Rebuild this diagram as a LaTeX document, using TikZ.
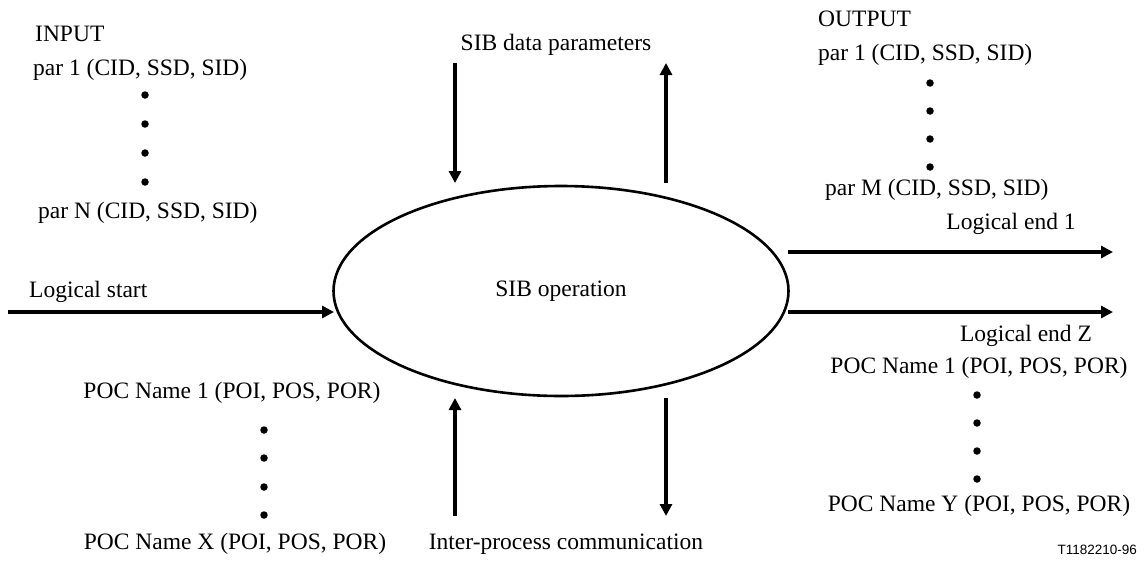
\documentclass[tikz,border=0pt]{standalone}
\usepackage{fontspec}
\setmainfont{Liberation Serif}
\newfontfamily\tcodefont{Liberation Sans}
\usetikzlibrary{shapes.geometric,arrows.meta}
\begin{document}
\begin{tikzpicture}[x=1pt,y=-1pt,
  lbl/.style={inner sep=0pt,font=\fontsize{23.5}{26}\selectfont},
  arr/.style={line width=3.1pt,-{Triangle[length=12pt,width=12pt]}},
  dotmark/.style={circle,fill=black,inner sep=0pt,minimum size=7.5pt}]
\useasboundingbox (0,0) rectangle (1147,563);
% central ellipse
\node[ellipse,draw,line width=2.6pt,minimum width=455pt,minimum height=210pt,inner sep=0pt,lbl] (op) at (561,291) {SIB operation};
% INPUT side
\node[lbl,anchor=west] (inp) at (35,34) {INPUT};
\node[lbl,anchor=west] (ip1) at (33,70) {par 1 (CID, SSD, SID)};
\foreach \i/\y in {1/95,2/124,3/153,4/182} \node[dotmark] (id\i) at (145,\y) {};
\node[lbl,anchor=west] (ipn) at (38,213) {par N (CID, SSD, SID)};
% OUTPUT side
\node[lbl,anchor=west] (out) at (818,19) {OUTPUT};
\node[lbl,anchor=west] (op1) at (818,55) {par 1 (CID, SSD, SID)};
\foreach \i/\y in {1/83,2/111,3/139,4/167} \node[dotmark] (od\i) at (930,\y) {};
\node[lbl,anchor=west] (opm) at (825,190) {par M (CID, SSD, SID)};
% top
\node[lbl] (sdp) at (556,45) {SIB data parameters};
\coordinate (tdS) at (455,63);
\coordinate (tdE) at (455,183);
\coordinate (tuS) at (666,183);
\coordinate (tuE) at (666,63);
\draw[arr] (tdS) -- (tdE);
\draw[arr] (tuS) -- (tuE);
% bottom
\coordinate (buS) at (455,516);
\coordinate (buE) at (455,398);
\coordinate (bdS) at (666,398);
\coordinate (bdE) at (666,516);
\draw[arr] (buS) -- (buE);
\draw[arr] (bdS) -- (bdE);
\node[lbl] (ipc) at (566,544) {Inter-process communication};
% logical start
\node[lbl,anchor=west] (ls) at (29,292) {Logical start};
\coordinate (lsS) at (8,312);
\coordinate (lsE) at (334,312);
\draw[arr] (lsS) -- (lsE);
% logical ends
\node[lbl] (le1) at (1011,224) {Logical end 1};
\coordinate (e1S) at (788,252);
\coordinate (e1E) at (1113,252);
\draw[arr] (e1S) -- (e1E);
\coordinate (ezS) at (788,312);
\coordinate (ezE) at (1113,312);
\draw[arr] (ezS) -- (ezE);
\node[lbl] (lez) at (1026,336) {Logical end Z};
% POC right
\node[lbl] (pr1) at (979,368) {POC Name 1 (POI, POS, POR)};
\foreach \i/\y in {1/395,2/423,3/451,4/479} \node[dotmark] (pd\i) at (977,\y) {};
\node[lbl] (pry) at (979,506) {POC Name Y (POI, POS, POR)};
% POC left
\node[lbl] (pl1) at (232,393) {POC Name 1 (POI, POS, POR)};
\foreach \i/\y in {1/430,2/458,3/487,4/515} \node[dotmark] (ld\i) at (264,\y) {};
\node[lbl] (plx) at (235,544) {POC Name X (POI, POS, POR)};
% figure code
\node[inner sep=0pt,anchor=east,font=\tcodefont\fontsize{13.5}{16}\selectfont] (code) at (1137,550) {T1182210-96};
\end{tikzpicture}
\end{document}
